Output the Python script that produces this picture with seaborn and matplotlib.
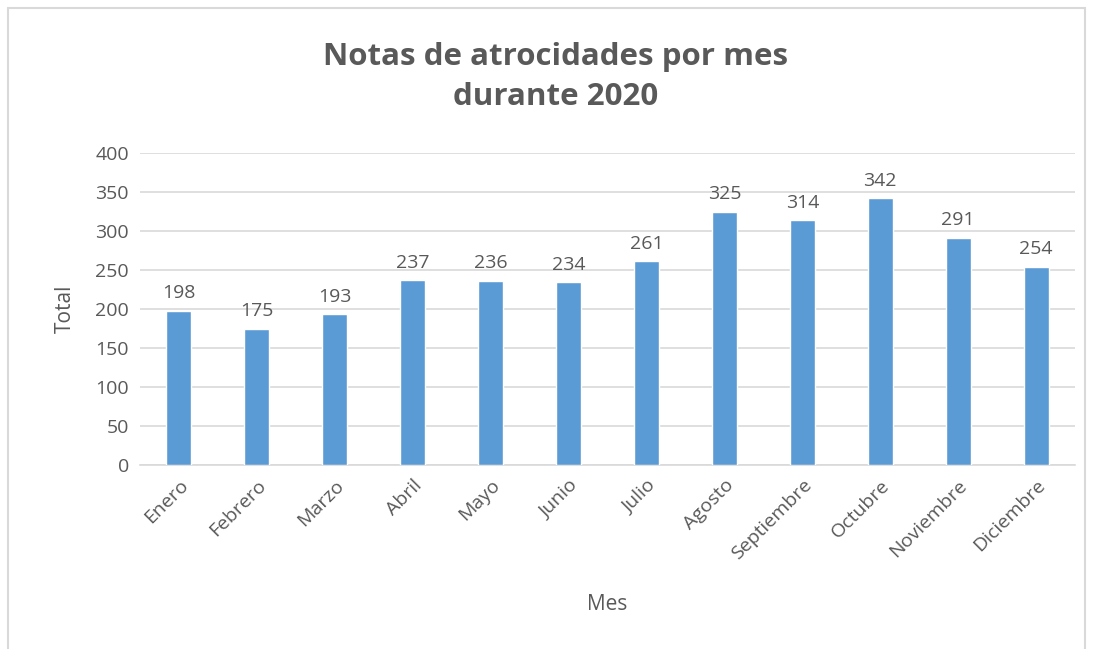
import pandas as pd
import matplotlib.pyplot as plt
import seaborn as sns
from matplotlib.patches import Rectangle

# --- Data ---
meses = ['Enero', 'Febrero', 'Marzo', 'Abril', 'Mayo', 'Junio', 'Julio',
         'Agosto', 'Septiembre', 'Octubre', 'Noviembre', 'Diciembre']
totales = [198, 175, 193, 237, 236, 234, 261, 325, 314, 342, 291, 254]
y_ticks = [0, 50, 100, 150, 200, 250, 300, 350, 400]

df = pd.DataFrame({'Mes': meses, 'Total': totales})

# --- Style ---
sns.set_theme(style="white")
plt.rcParams['font.family'] = ['Open Sans', 'DejaVu Sans']
GRAY = '#595959'
BAR = '#5B9BD5'

fig = plt.figure(figsize=(10.93, 6.49), dpi=100)
ax = fig.add_axes([140 / 1093, 1 - 465 / 649, 935 / 1093, 312 / 649])

sns.barplot(data=df, x='Mes', y='Total', color=BAR, width=0.32,
            saturation=1, ax=ax, zorder=3)

ax.set_ylim(0, 400)
ax.set_yticks(y_ticks)
ax.yaxis.grid(True, color='#D9D9D9', linewidth=1.2, zorder=0)
ax.set_xlim(-0.5, len(meses) - 0.5)
for s in ['top', 'right', 'left']:
    ax.spines[s].set_visible(False)
ax.spines['bottom'].set_color('#D9D9D9')
ax.spines['bottom'].set_linewidth(1.2)
ax.tick_params(axis='both', length=0, labelsize=14, labelcolor=GRAY, pad=8)
ax.set_xticks(range(len(meses)))
ax.set_xticklabels(meses, rotation=45, ha='right', rotation_mode='anchor')

for i, v in enumerate(totales):
    ax.text(i, v + 11, str(v), ha='center', va='bottom', fontsize=14, color=GRAY)

ax.set_xlabel('Mes', fontsize=15, color=GRAY, labelpad=22)
ax.set_ylabel('Total', fontsize=15, color=GRAY, labelpad=14)
fig.text(556 / 1093, 1 - 77 / 649, 'Notas de atrocidades por mes\ndurante 2020',
         ha='center', va='center', fontsize=22.5, fontweight='bold', color=GRAY,
         linespacing=1.45)

# outer chart border
fig.patches.append(Rectangle((8 / 1093, -0.01), 1077 / 1093, 1 - 8 / 649 + 0.01,
                             transform=fig.transFigure, fill=False,
                             edgecolor='#D9D9D9', linewidth=1.5))

fig.savefig('out.png', dpi=100)
